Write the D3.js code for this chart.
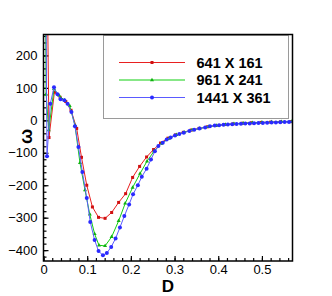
<!DOCTYPE html>
<html>
<head>
<meta charset="utf-8">
<script src="https://cdn.jsdelivr.net/npm/d3@7"></script>
<style>
  body { margin: 0; background: #fff; }
  svg { display: block; }
  text { font-family: "Liberation Sans", Arial, sans-serif; }
</style>
</head>
<body>
<div id="container"></div>
<script>
// series values (D, omega)
const coarseD = [0, 0.0126, 0.025, 0.038, 0.051, 0.063, 0.076, 0.087, 0.099, 0.112, 0.126, 0.141, 0.156, 0.172, 0.188, 0.204, 0.220, 0.236, 0.252, 0.268, 0.285, 0.302, 0.320, 0.338, 0.356, 0.375, 0.394, 0.414, 0.434, 0.455, 0.476, 0.498, 0.520, 0.543, 0.566];
const coarseW = [1500, -53, 87, 71, 58, 31, -25, -114, -200, -267, -299, -302, -284, -253, -226, -176, -142, -113, -90, -70, -55, -45, -37, -30, -25, -20, -16, -13, -11, -9, -7.5, -6.5, -5.5, -4.5, -4];

const mediumD = [0, 0.006, 0.012, 0.024, 0.036, 0.048, 0.060, 0.072, 0.0835, 0.095, 0.106, 0.117, 0.127, 0.141, 0.156, 0.172, 0.187, 0.204, 0.221, 0.237, 0.253, 0.270, 0.287, 0.304, 0.322, 0.340, 0.358, 0.377, 0.396, 0.416, 0.436, 0.457, 0.478, 0.500, 0.522, 0.545, 0.568];
const mediumW = [1500, 80, -30, 97, 76, 62, 45, -15, -131, -215, -290, -350, -385, -387, -359, -310, -256, -207, -164, -126, -95, -72, -56, -45, -37, -30, -25, -20, -16, -13, -11, -9, -7.5, -6.5, -5.5, -4.5, -4];

const fineD = [0, 0.008, 0.0156, 0.024, 0.032, 0.039, 0.048, 0.055, 0.064, 0.072, 0.080, 0.089, 0.099, 0.107, 0.117, 0.126, 0.136, 0.145, 0.155, 0.165, 0.175, 0.185, 0.196, 0.205, 0.216, 0.225, 0.236, 0.246, 0.255, 0.263, 0.273, 0.282, 0.291, 0.301, 0.311, 0.321, 0.334, 0.345, 0.357, 0.370, 0.381, 0.392, 0.402, 0.412, 0.422, 0.432, 0.442, 0.452, 0.462, 0.472, 0.482, 0.492, 0.502, 0.512, 0.522, 0.532, 0.542, 0.552, 0.562, 0.572];
const fineW = [1500, -111, 51, 102, 80, 65, 62, 51, 26, -18, -82, -159, -239, -313, -369, -403, -416, -409, -390, -364, -330, -295, -259, -228, -200, -174, -149, -121, -95, -79, -69, -59, -53, -47, -42, -38, -33, -29, -25, -22, -18, -16, -15, -14, -13, -12, -11, -10.5, -10, -9.5, -9, -8.5, -8, -7.5, -7, -6.5, -6, -5.5, -5, -4.5];

const seriesNames = ["641 X 161", "961 X 241", "1441 X 361"];
const xTicks = [0, 0.1, 0.2, 0.3, 0.4, 0.5];
const yTicks = [-400, -300, -200, -100, 0, 100, 200];

const series = [
  { name: seriesNames[0], d: coarseD, w: coarseW, line: "#e82020", mark: "#d01010", shape: "square" },
  { name: seriesNames[1], d: mediumD, w: mediumW, line: "#10d010", mark: "#10b010", shape: "triangle" },
  { name: seriesNames[2], d: fineD, w: fineW, line: "#5a5aff", mark: "#2a2aff", shape: "circle" },
];

const W = 332, H = 296;
const box = { left: 43.5, right: 292.5, top: 34.5, bottom: 261 };

const svg = d3.select("#container").append("svg").attr("width", W).attr("height", H);

const x = d3.scaleLinear().domain([0, 0.57]).range([box.left, box.right]);
const y = d3.scaleLinear().domain([-433.5, 264.5]).range([box.bottom, box.top]);

svg.append("defs").append("clipPath").attr("id", "plotclip")
  .append("rect").attr("x", box.left).attr("y", box.top)
  .attr("width", box.right - box.left).attr("height", box.bottom - box.top);

// minor ticks
svg.append("g").attr("transform", "translate(0," + box.bottom + ")")
  .call(d3.axisBottom(x).tickValues(d3.range(0, 0.57, 0.02)).tickSize(-3).tickFormat(""))
  .call(g => g.select(".domain").remove());
svg.append("g").attr("transform", "translate(" + box.left + ",0)")
  .call(d3.axisLeft(y).tickValues(d3.range(-420, 261, 20)).tickSize(-3).tickFormat(""))
  .call(g => g.select(".domain").remove());

// major ticks with labels
svg.append("g").attr("transform", "translate(0," + box.bottom + ")")
  .call(d3.axisBottom(x).tickValues(xTicks).tickSize(-5).tickPadding(3.5).tickFormat(d => d === 0 ? "0" : d3.format(".1f")(d)))
  .call(g => g.select(".domain").remove())
  .call(g => g.selectAll("text").attr("font-size", 13).attr("fill", "#000").attr("font-family", "Liberation Sans, Arial"));
svg.append("g").attr("transform", "translate(" + box.left + ",0)")
  .call(d3.axisLeft(y).tickValues(yTicks).tickSize(-5).tickPadding(6))
  .call(g => g.select(".domain").remove())
  .call(g => g.selectAll("text").attr("font-size", 13).attr("fill", "#000").attr("font-family", "Liberation Sans, Arial"));
svg.selectAll(".tick line").attr("stroke", "#000").attr("stroke-width", 1.2);

// legend box
svg.append("rect").attr("x", 103.5).attr("y", 35.5).attr("width", 185).attr("height", 83)
  .attr("fill", "#fff").attr("stroke", "#9a9a9a").attr("stroke-width", 1);

// curves
const plot = svg.append("g").attr("clip-path", "url(#plotclip)");
const line = d3.line().x(p => x(p[0])).y(p => y(p[1]));

function drawMarker(g, shape, cx, cy, color) {
  if (shape === "square") {
    g.append("rect").attr("x", cx - 1.5).attr("y", cy - 1.5).attr("width", 3).attr("height", 3).attr("fill", color);
  } else if (shape === "triangle") {
    g.append("path").attr("d", d3.symbol(d3.symbolTriangle, 7)()).attr("transform", "translate(" + cx + "," + cy + ")").attr("fill", color);
  } else {
    g.append("circle").attr("cx", cx).attr("cy", cy).attr("r", 2).attr("fill", color);
  }
}

series.forEach(s => {
  const pts = s.d.map((d, i) => [d, s.w[i]]);
  plot.append("path").datum(pts).attr("d", line)
    .attr("fill", "none").attr("stroke", s.line).attr("stroke-width", 1);
  const mg = plot.append("g");
  pts.forEach(p => drawMarker(mg, s.shape, x(p[0]), y(p[1]), s.mark));
});

// frame
svg.append("rect").attr("x", box.left).attr("y", box.top)
  .attr("width", box.right - box.left).attr("height", box.bottom - box.top)
  .attr("fill", "none").attr("stroke", "#000").attr("stroke-width", 1.5);

// legend entries
const legendRows = [62.5, 80, 97.5];
series.forEach((s, i) => {
  const ly = legendRows[i];
  svg.append("line").attr("x1", 119).attr("x2", 185).attr("y1", ly).attr("y2", ly)
    .attr("stroke", s.line).attr("stroke-width", 1.1);
  drawMarker(svg, s.shape, 152, ly, s.mark);
  svg.append("text").attr("x", 196.5).attr("y", ly + 5.2)
    .attr("font-size", 14.5).attr("font-weight", "bold").text(s.name);
});

// axis titles
svg.append("text").attr("x", 168).attr("y", 292).attr("text-anchor", "middle")
  .attr("font-size", 17).attr("font-weight", "bold").text("D");
svg.append("text").attr("transform", "translate(31.5,136.5) rotate(-90)").attr("text-anchor", "middle")
  .attr("font-size", 18).attr("font-weight", "bold").text("ω");
</script>
</body>
</html>
